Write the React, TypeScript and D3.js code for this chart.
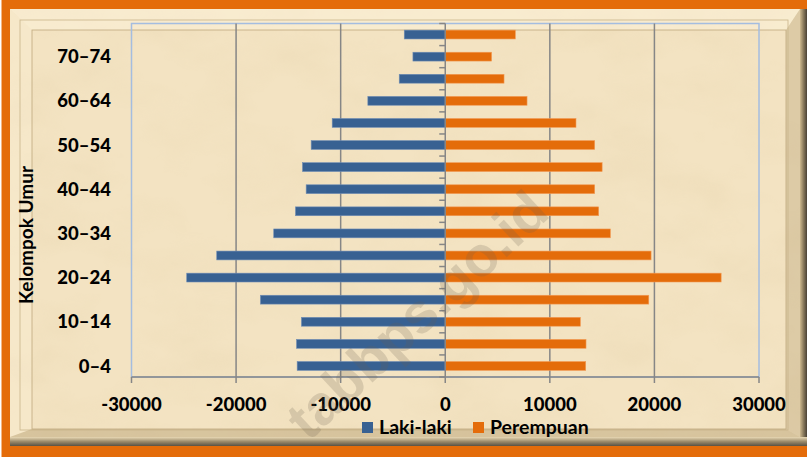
import React from "react";
import * as d3 from "d3";

const categories = ["0–4","5–9","10–14","15–19","20–24","25–29","30–34","35–39","40–44","45–49","50–54","55–59","60–64","65–69","70–74","75+"];
const lakiLaki = [-14160,-14220,-13750,-17670,-24720,-21850,-16400,-14320,-13300,-13650,-12820,-10810,-7400,-4400,-3090,-3920];
const perempuan = [13430,13460,12920,19460,26380,19680,15790,14670,14290,15000,14290,12500,7820,5620,4430,6700];
const xTicks = [-30000,-20000,-10000,0,10000,20000,30000];
const seriesNames = ["Laki-laki","Perempuan"];

const W = 807, H = 457;
const BLUE = "#386192";
const ORANGE = "#E46C0A";
const FONT = "Lato, 'Open Sans', sans-serif";

export default function App() {
  const x = d3.scaleLinear().domain([-30000, 30000]).range([131.5, 759]);
  const y = d3.scaleBand<string>().domain(categories).range([377, 23.5]).paddingInner(0.6).paddingOuter(0.3);
  const bw = y.bandwidth();
  const step = y.step();
  const top = 23.5, bottom = 377, left = x(-30000), right = x(30000), zero = x(0);
  const bounds = d3.range(categories.length + 1).map(k => top + k * step);

  return (
    <svg width={W} height={H} style={{ position: "absolute", left: 0, top: 0 }} fontFamily={FONT}>
      <defs>
        <filter id="paper" x="0" y="0" width="100%" height="100%">
          <feTurbulence type="fractalNoise" baseFrequency="0.012 0.02" numOctaves="4" seed="7" />
          <feColorMatrix type="matrix" values="0 0 0 0 0.80  0 0 0 0 0.66  0 0 0 0 0.42  1.3 0 0 0 -0.55" />
        </filter>
        <linearGradient id="rightShade" x1="0" x2="1" y1="0" y2="0">
          <stop offset="0" stopColor="#cdb98f" />
          <stop offset="0.5" stopColor="#8a7a5c" />
          <stop offset="1" stopColor="#4a4236" />
        </linearGradient>
        <linearGradient id="bottomShade" x1="0" x2="0" y1="0" y2="1">
          <stop offset="0" stopColor="#e8d8b4" />
          <stop offset="0.5" stopColor="#9c8c6c" />
          <stop offset="1" stopColor="#5a5244" />
        </linearGradient>
      </defs>
      {/* outer orange frame */}
      <rect x={0} y={0} width={W} height={H} fill={ORANGE} />
      <rect x={0} y={0} width={1.5} height={H} fill="#ffffff" />
      {/* parchment */}
      <rect x={10} y={9} width={797} height={437} fill="#F3E3C2" />
      <rect x={10} y={9} width={797} height={437} filter="url(#paper)" opacity={0.5} />
      {/* bevel shading */}
      <polygon points="10,9 800,9 786,30 32,30" fill="#fff6df" opacity={0.45} />
      <polygon points="10,9 32,30 32,429 10,437" fill="#fff6df" opacity={0.3} />
      <polygon points="786,30 800,9 800,437 786,429" fill="#b59f74" opacity={0.35} />
      <polygon points="32,429 786,429 800,437 10,437" fill="#b59f74" opacity={0.45} />
      <rect x={800} y={9} width={7} height={437} fill="url(#rightShade)" />
      <rect x={10} y={437} width={797} height={9} fill="url(#bottomShade)" />
      <rect x={20} y={20} width={768} height={410} fill="none" stroke="#c9b48a" strokeWidth={0.8} />
      <rect x={32} y={30} width={754} height={399} fill="none" stroke="#bfa97e" strokeWidth={0.8} />

      {/* plot area border */}
      <rect x={left} y={top} width={right - left} height={bottom - top} fill="none" stroke="#A4BDE0" strokeWidth={1.5} />
      {/* gridlines */}
      {xTicks.filter(t => t !== 0 && Math.abs(t) !== 30000).map(t => (
        <line key={"g" + t} x1={x(t)} x2={x(t)} y1={top} y2={bottom} stroke="#868686" strokeWidth={1.5} />
      ))}
      {/* bars */}
      {categories.map((c, i) => (
        <g key={c}>
          <rect x={x(lakiLaki[i])} y={y(c)} width={zero - x(lakiLaki[i])} height={bw} fill={BLUE} stroke="#6f8db5" strokeWidth={0.6} />
          <rect x={zero} y={y(c)} width={x(perempuan[i]) - zero} height={bw} fill={ORANGE} stroke="#f29a55" strokeWidth={0.6} />
        </g>
      ))}
      {/* y axis */}
      <line x1={zero} x2={zero} y1={top} y2={bottom} stroke="#868686" strokeWidth={1.5} />
      {bounds.map((b, k) => (
        <line key={"yt" + k} x1={zero - 6} x2={zero} y1={b} y2={b} stroke="#868686" strokeWidth={1.5} />
      ))}
      {/* x axis */}
      <line x1={left} x2={right} y1={bottom} y2={bottom} stroke="#868686" strokeWidth={1.5} />
      {xTicks.map(t => (
        <line key={"xt" + t} x1={x(t)} x2={x(t)} y1={bottom} y2={bottom + 6} stroke="#868686" strokeWidth={1.5} />
      ))}
      {xTicks.map(t => (
        <text key={"xl" + t} x={x(t)} y={411} textAnchor="middle" fontSize={18.5} fontWeight="900" fill="#000">{t}</text>
      ))}
      {categories.map((c, i) => i % 2 === 0 ? (
        <text key={"yl" + c} x={111} y={(y(c) as number) + bw / 2} dy="0.36em" textAnchor="end" fontSize={18.5} fontWeight="900" fill="#000">{c}</text>
      ) : null)}
      <text transform="translate(33,235) rotate(-90)" textAnchor="middle" fontSize={19} fontWeight="bold" fill="#000">Kelompok Umur</text>

      {/* legend */}
      <rect x={362} y={422} width={11} height={11} fill={BLUE} />
      <text x={379} y={434} fontSize={19.5} fontWeight="bold" fill="#000">{seriesNames[0]}</text>
      <rect x={473} y={422} width={11} height={11} fill={ORANGE} />
      <text x={490} y={434} fontSize={19.5} fontWeight="bold" fill="#000">{seriesNames[1]}</text>

      {/* watermark */}
      <text transform="translate(420,318) rotate(-43)" textAnchor="middle" dominantBaseline="middle" fontSize={56} fontWeight="bold" fontFamily="'Liberation Sans', Arial, sans-serif" fill="#6a6050" opacity={0.2}>tabbps.go.id</text>
    </svg>
  );
}
